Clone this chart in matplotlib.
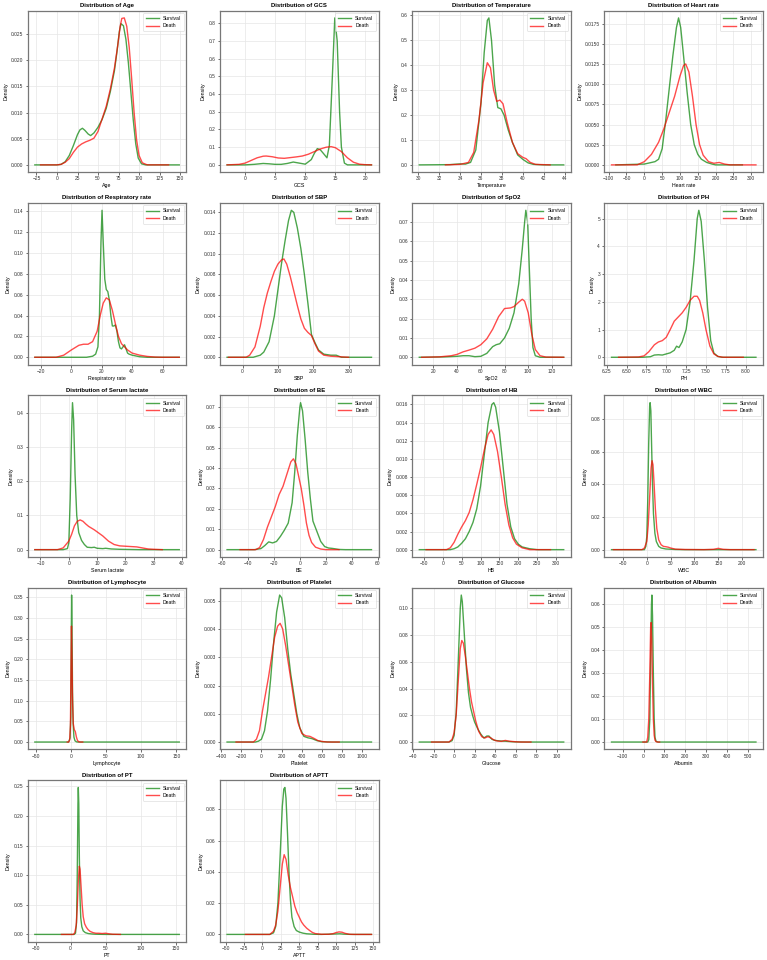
import matplotlib.pyplot as plt
from matplotlib.ticker import MultipleLocator

plt.rcParams['font.family'] = ['Liberation Sans', 'DejaVu Sans']

# densities, (x, density) for each class
age_s_x = [-27, 0, 5, 10, 15, 20, 25, 28, 31, 34, 38, 41, 45, 50, 55, 60, 65, 70, 73, 76, 78, 81, 84, 87, 90, 93, 96, 99, 103, 108, 149]
age_s_y = [0, 0, 0.0001, 0.0006, 0.0018, 0.0037, 0.0058, 0.0067, 0.0070, 0.0066, 0.0059, 0.0056, 0.0061, 0.0072, 0.0087, 0.0108, 0.0140, 0.0180, 0.0215, 0.0255, 0.0270, 0.0266, 0.0240, 0.0195, 0.0140, 0.0085, 0.0040, 0.0013, 0.0002, 0, 0]
age_d_x = [-20, 0, 5, 10, 15, 20, 25, 30, 35, 40, 45, 50, 55, 60, 65, 70, 74, 77, 79, 82, 85, 88, 91, 94, 97, 100, 104, 110, 136]
age_d_y = [0, 0, 0.0001, 0.0005, 0.0012, 0.0024, 0.0034, 0.0040, 0.0044, 0.0047, 0.0051, 0.0064, 0.0088, 0.0112, 0.0145, 0.0185, 0.0228, 0.0265, 0.0280, 0.0281, 0.0265, 0.0225, 0.0165, 0.0100, 0.0048, 0.0018, 0.0004, 0, 0]

gcs_s_x = [-3, 0, 1.5, 3, 4, 5, 6, 7, 8, 9, 10, 11, 11.5, 12, 12.5, 13, 13.6, 14, 14.5, 14.9, 15.3, 15.7, 16, 16.5, 17, 21]
gcs_s_y = [0, 0, 0.003, 0.008, 0.006, 0.003, 0.003, 0.008, 0.016, 0.010, 0.004, 0.030, 0.065, 0.092, 0.085, 0.065, 0.040, 0.110, 0.500, 0.830, 0.700, 0.300, 0.100, 0.010, 0, 0]
gcs_d_x = [-3, -1, 0, 1, 2, 3, 3.5, 4.5, 5.5, 6.5, 7.5, 8.5, 9.5, 10.5, 11.5, 12.5, 13.5, 14.3, 15, 16, 17, 18, 19, 20, 21]
gcs_d_y = [0, 0.003, 0.010, 0.025, 0.040, 0.049, 0.050, 0.046, 0.039, 0.037, 0.041, 0.045, 0.050, 0.060, 0.075, 0.090, 0.100, 0.103, 0.097, 0.075, 0.040, 0.015, 0.004, 0.001, 0]

temp_s_x = [30.1, 33, 34, 34.5, 35, 35.5, 36, 36.3, 36.6, 36.75, 37, 37.3, 37.6, 37.9, 38.2, 38.6, 39, 39.5, 40, 40.5, 41, 42, 43.9]
temp_s_y = [0, 0.001, 0.004, 0.003, 0.010, 0.060, 0.250, 0.450, 0.580, 0.590, 0.500, 0.320, 0.230, 0.225, 0.200, 0.140, 0.090, 0.040, 0.022, 0.008, 0.002, 0, 0]
temp_d_x = [32.6, 34, 34.8, 35.3, 35.8, 36.2, 36.6, 36.9, 37.2, 37.5, 37.8, 38.1, 38.5, 39, 39.5, 40, 40.3, 40.7, 41.2, 42.6]
temp_d_y = [0, 0.002, 0.010, 0.050, 0.180, 0.330, 0.410, 0.390, 0.300, 0.255, 0.260, 0.245, 0.170, 0.090, 0.045, 0.030, 0.025, 0.010, 0.002, 0]

hr_s_x = [-80, 0, 10, 30, 40, 50, 60, 70, 80, 90, 96, 102, 110, 120, 130, 140, 150, 160, 175, 190, 200, 275]
hr_s_y = [0, 0.0001, 0.0002, 0.0004, 0.0007, 0.0020, 0.0055, 0.0095, 0.0135, 0.0170, 0.0182, 0.0170, 0.0135, 0.0090, 0.0050, 0.0025, 0.0013, 0.0007, 0.0003, 0.0001, 0, 0]
hr_d_x = [-92, -20, 0, 20, 40, 55, 70, 85, 100, 110, 116, 125, 135, 145, 155, 165, 180, 195, 210, 225, 240, 313]
hr_d_y = [0, 0, 0.0004, 0.0013, 0.0028, 0.0045, 0.0065, 0.0085, 0.0110, 0.0123, 0.0125, 0.0115, 0.0085, 0.0050, 0.0025, 0.0012, 0.0004, 0.0002, 0.0003, 0.0001, 0, 0]

rr_s_x = [-24, 10, 14, 16, 17.5, 18.5, 19.5, 20.2, 21, 22, 23, 24, 25, 26, 27, 28, 29, 30, 31, 32, 33, 34, 35, 36, 37, 38, 40, 45, 50, 71]
rr_s_y = [0, 0, 0.001, 0.003, 0.010, 0.040, 0.110, 0.141, 0.110, 0.075, 0.065, 0.063, 0.055, 0.040, 0.030, 0.030, 0.031, 0.025, 0.015, 0.009, 0.008, 0.010, 0.012, 0.008, 0.004, 0.003, 0.002, 0.0005, 0, 0]
rr_d_x = [-24, -10, -5, 0, 5, 8, 11, 14, 17, 19, 21, 23, 25, 27, 29, 31, 33, 35, 37, 40, 45, 50, 55, 60, 71]
rr_d_y = [0, 0, 0.002, 0.007, 0.0115, 0.0125, 0.0125, 0.015, 0.025, 0.040, 0.052, 0.057, 0.055, 0.045, 0.032, 0.020, 0.013, 0.010, 0.007, 0.004, 0.002, 0.0008, 0.0002, 0, 0]

sbp_s_x = [-44, 30, 50, 60, 75, 90, 100, 110, 120, 130, 138, 145, 155, 165, 175, 185, 195, 205, 215, 230, 250, 265, 280, 365]
sbp_s_y = [0, 0, 0.0002, 0.0005, 0.0015, 0.0040, 0.0065, 0.0090, 0.0112, 0.0132, 0.0142, 0.0140, 0.0125, 0.0105, 0.0080, 0.0052, 0.0022, 0.0014, 0.0007, 0.0003, 0.0002, 0.0002, 0, 0]
sbp_d_x = [-40, 10, 20, 35, 50, 60, 70, 80, 90, 100, 110, 117, 125, 135, 145, 155, 165, 175, 185, 195, 205, 215, 230, 250, 300]
sbp_d_y = [0, 0, 0.0002, 0.0010, 0.0030, 0.0048, 0.0062, 0.0073, 0.0083, 0.0090, 0.0094, 0.0095, 0.0090, 0.0078, 0.0064, 0.0050, 0.0037, 0.0028, 0.0024, 0.0021, 0.0013, 0.0006, 0.0002, 0.0001, 0]

spo2_s_x = [8, 30, 40, 45, 50, 55, 60, 65, 70, 73, 76, 80, 84, 88, 92, 95, 97, 98, 99.5, 101, 102.5, 104, 106, 110, 130]
spo2_s_y = [0, 0.0002, 0.0005, 0.0008, 0.0008, 0.0003, 0.0005, 0.0020, 0.0055, 0.0065, 0.0070, 0.0100, 0.0150, 0.0230, 0.0380, 0.0560, 0.0700, 0.0760, 0.0700, 0.0450, 0.0200, 0.0050, 0.0008, 0, 0]
spo2_d_x = [10, 25, 35, 40, 45, 50, 55, 60, 65, 70, 75, 80, 85, 88, 92, 95, 97, 100, 103, 106, 110, 115, 130]
spo2_d_y = [0, 0.0002, 0.0008, 0.0015, 0.0028, 0.0037, 0.0047, 0.0065, 0.0095, 0.0145, 0.0210, 0.0252, 0.0255, 0.0262, 0.0285, 0.0300, 0.0290, 0.0230, 0.0120, 0.0040, 0.0008, 0.0001, 0]

ph_s_x = [6.31, 6.7, 6.8, 6.85, 6.9, 6.95, 7.0, 7.05, 7.1, 7.13, 7.16, 7.2, 7.25, 7.3, 7.35, 7.39, 7.41, 7.44, 7.48, 7.52, 7.56, 7.6, 7.65, 7.7, 8.13]
ph_s_y = [0, 0, 0.02, 0.08, 0.09, 0.08, 0.12, 0.16, 0.25, 0.40, 0.35, 0.55, 1.00, 2.00, 3.50, 5.00, 5.30, 4.90, 3.50, 1.80, 0.60, 0.15, 0.03, 0, 0]
ph_d_x = [6.40, 6.65, 6.72, 6.78, 6.85, 6.9, 6.95, 7.0, 7.05, 7.1, 7.15, 7.2, 7.25, 7.3, 7.35, 7.39, 7.42, 7.46, 7.5, 7.55, 7.6, 7.65, 7.72, 7.97]
ph_d_y = [0, 0.01, 0.05, 0.20, 0.45, 0.55, 0.60, 0.72, 1.00, 1.30, 1.45, 1.60, 1.80, 2.05, 2.20, 2.20, 2.05, 1.60, 1.00, 0.40, 0.12, 0.03, 0, 0]

lac_s_x = [-12, -2, -0.5, 0, 0.5, 1, 1.3, 1.7, 2.2, 2.8, 3.5, 4.5, 5.5, 6.5, 8, 9, 10, 12, 13, 15, 18, 25, 39]
lac_s_y = [0, 0, 0.003, 0.020, 0.150, 0.350, 0.430, 0.380, 0.220, 0.100, 0.050, 0.027, 0.015, 0.007, 0.006, 0.007, 0.004, 0.003, 0.004, 0.002, 0.001, 0, 0]
lac_d_x = [-12, -4, -2, 0, 1, 2, 3, 4, 5, 6, 7, 8, 9, 10, 12, 14, 16, 18, 20, 22, 24, 26, 28, 30, 33]
lac_d_y = [0, 0, 0.005, 0.025, 0.045, 0.070, 0.083, 0.087, 0.083, 0.075, 0.068, 0.063, 0.058, 0.052, 0.040, 0.025, 0.015, 0.011, 0.010, 0.009, 0.008, 0.005, 0.002, 0.001, 0]

be_s_x = [-56, -35, -30, -27, -24, -21, -18, -15, -12, -9, -6, -4, -2, 0, 0.5, 2, 4, 6, 8, 10, 13, 16, 19, 22, 25, 30, 35, 55]
be_s_y = [0, 0, 0.0005, 0.0020, 0.0038, 0.0033, 0.0040, 0.0065, 0.0095, 0.0130, 0.0230, 0.0380, 0.0560, 0.0700, 0.0720, 0.0680, 0.0540, 0.0380, 0.0250, 0.0140, 0.0090, 0.0040, 0.0015, 0.0008, 0.0006, 0.0001, 0, 0]
be_d_x = [-46, -34, -31, -28, -25, -22, -19, -16, -13, -10, -7, -5, -3, -1, 1, 3, 5, 7, 9, 12, 16, 20, 30]
be_d_y = [0, 0, 0.001, 0.005, 0.011, 0.016, 0.021, 0.027, 0.031, 0.037, 0.043, 0.0445, 0.042, 0.036, 0.030, 0.022, 0.013, 0.007, 0.0035, 0.0012, 0.0003, 0, 0]

hb_s_x = [-62, 20, 30, 40, 50, 60, 70, 80, 90, 100, 110, 120, 130, 135, 140, 150, 160, 170, 180, 190, 200, 210, 230, 250, 320]
hb_s_y = [0, 0, 0.0001, 0.0003, 0.0007, 0.0012, 0.0020, 0.0030, 0.0045, 0.0070, 0.0105, 0.0140, 0.0160, 0.0162, 0.0157, 0.0130, 0.0090, 0.0050, 0.0025, 0.0012, 0.0006, 0.0003, 0.0001, 0, 0]
hb_d_x = [-44, 10, 20, 30, 40, 50, 60, 70, 80, 90, 100, 110, 120, 128, 135, 145, 155, 165, 175, 185, 195, 210, 230, 285]
hb_d_y = [0, 0, 0.0002, 0.0008, 0.0017, 0.0025, 0.0032, 0.0041, 0.0055, 0.0072, 0.0090, 0.0110, 0.0127, 0.0132, 0.0127, 0.0108, 0.0080, 0.0050, 0.0027, 0.0013, 0.0006, 0.0002, 0, 0]

wbc_s_x = [-74, -5, -2, 0, 2, 4, 6, 7, 8.5, 10, 12, 14, 17, 20, 25, 30, 40, 60, 80, 229]
wbc_s_y = [0, 0, 0.002, 0.008, 0.030, 0.065, 0.088, 0.090, 0.085, 0.065, 0.040, 0.022, 0.010, 0.005, 0.002, 0.001, 0.0004, 0.0001, 0, 0]
wbc_d_x = [-70, -10, -5, 0, 3, 6, 9, 11, 13, 15, 18, 21, 25, 30, 35, 40, 45, 50, 60, 80, 120, 140, 150, 160, 175, 225]
wbc_d_y = [0, 0, 0.001, 0.005, 0.015, 0.032, 0.050, 0.0545, 0.052, 0.042, 0.025, 0.013, 0.006, 0.003, 0.002, 0.0018, 0.0015, 0.001, 0.0003, 0.0001, 0, 0.0002, 0.0008, 0.0002, 0, 0]

lym_s_x = [-51, -3, -1, 0, 0.7, 1.2, 1.8, 2.5, 3.5, 4.5, 6, 8, 10, 154]
lym_s_y = [0, 0, 0.010, 0.060, 0.250, 0.355, 0.280, 0.120, 0.040, 0.012, 0.003, 0.0005, 0, 0]
lym_d_x = [-5, -3, -1.5, -0.5, 0.5, 1.0, 1.6, 2.5, 3.5, 5, 6.5, 8, 9.5, 11, 13, 17]
lym_d_y = [0, 0, 0.005, 0.040, 0.200, 0.280, 0.220, 0.100, 0.045, 0.030, 0.025, 0.012, 0.004, 0.001, 0, 0]

plt_s_x = [-341, -60, -30, 0, 30, 60, 90, 120, 150, 180, 200, 230, 260, 290, 320, 350, 380, 420, 460, 500, 550, 600, 700, 1090]
plt_s_y = [0, 0, 0.00003, 0.0001, 0.0004, 0.0011, 0.0022, 0.0035, 0.0046, 0.0052, 0.0051, 0.0044, 0.0033, 0.0024, 0.0017, 0.0010, 0.0005, 0.0002, 0.00015, 0.00012, 0.00005, 0.00001, 0, 0]
plt_d_x = [-252, -80, -50, -20, 10, 40, 70, 100, 130, 160, 185, 210, 240, 270, 300, 330, 360, 400, 440, 480, 520, 560, 600, 650, 770]
plt_d_y = [0, 0, 0.0001, 0.0004, 0.0011, 0.0017, 0.0023, 0.0030, 0.0037, 0.0041, 0.0042, 0.0040, 0.0034, 0.0027, 0.0020, 0.0013, 0.0007, 0.0003, 0.00022, 0.0002, 0.00013, 0.00005, 0.00002, 0, 0]

glu_s_x = [-34, -5, -2, 0, 2, 4, 6, 7, 8, 10, 12, 14, 16, 18, 20, 23, 26, 29, 32, 34, 37, 40, 45, 50, 55, 60, 70, 107]
glu_s_y = [0, 0, 0.001, 0.005, 0.022, 0.060, 0.100, 0.110, 0.105, 0.080, 0.055, 0.037, 0.026, 0.020, 0.015, 0.010, 0.006, 0.003, 0.0045, 0.0045, 0.002, 0.0012, 0.0008, 0.0006, 0.0003, 0.0001, 0, 0]
glu_d_x = [-22, -5, -2, 0, 2, 4, 6, 7.5, 9, 11, 13, 15, 17, 19, 21, 24, 27, 30, 33, 36, 39, 42, 46, 50, 54, 60, 65, 75]
glu_d_y = [0, 0, 0.002, 0.007, 0.020, 0.045, 0.070, 0.076, 0.074, 0.064, 0.052, 0.040, 0.030, 0.023, 0.016, 0.008, 0.004, 0.003, 0.004, 0.003, 0.0015, 0.0008, 0.0005, 0.0012, 0.0006, 0.0002, 0, 0]

alb_s_x = [-154, 20, 25, 30, 34, 38, 40, 43, 47, 51, 55, 60, 70, 540]
alb_s_y = [0, 0, 0.001, 0.010, 0.035, 0.060, 0.064, 0.055, 0.030, 0.010, 0.002, 0.0003, 0, 0]
alb_d_x = [-3, 15, 20, 25, 30, 34, 36, 39, 43, 47, 51, 55, 60, 65, 77]
alb_d_y = [0, 0, 0.002, 0.010, 0.030, 0.050, 0.052, 0.045, 0.025, 0.010, 0.003, 0.0008, 0.0002, 0, 0]

pt_s_x = [-51, 5, 7, 8.5, 9.5, 10.5, 11, 11.7, 12.5, 13.5, 14.5, 16, 18, 21, 25, 30, 35, 40, 50, 155]
pt_s_y = [0, 0, 0.002, 0.020, 0.100, 0.220, 0.248, 0.220, 0.130, 0.060, 0.028, 0.013, 0.006, 0.003, 0.0015, 0.0008, 0.0004, 0.0002, 0, 0]
pt_d_x = [-13, 4, 6, 8, 9.5, 11, 12.5, 13.5, 15, 16.5, 18, 20, 22.5, 25, 28, 32, 36, 40, 45, 50, 55, 60, 71]
pt_d_y = [0, 0, 0.003, 0.015, 0.045, 0.090, 0.115, 0.110, 0.080, 0.050, 0.030, 0.018, 0.012, 0.008, 0.005, 0.003, 0.002, 0.002, 0.0015, 0.002, 0.001, 0.0003, 0]

aptt_s_x = [-48, 10, 15, 18, 21, 24, 27, 29, 30.5, 32, 34, 36, 38, 40, 43, 46, 50, 55, 60, 70, 80, 100, 105, 110, 120, 148]
aptt_s_y = [0, 0, 0.001, 0.005, 0.020, 0.050, 0.082, 0.093, 0.094, 0.087, 0.065, 0.040, 0.022, 0.011, 0.005, 0.0025, 0.0015, 0.0008, 0.0004, 0.0001, 0, 0.0003, 0.0004, 0.0002, 0, 0]
aptt_d_x = [-23, 10, 15, 18, 21, 24, 27, 29.5, 32, 35, 38, 41, 44, 47, 50, 53, 56, 60, 64, 68, 72, 80, 90, 96, 100, 104, 108, 112, 118, 125, 148]
aptt_d_y = [0, 0, 0.002, 0.006, 0.015, 0.030, 0.045, 0.051, 0.048, 0.038, 0.030, 0.024, 0.018, 0.014, 0.011, 0.008, 0.006, 0.004, 0.0025, 0.0012, 0.0005, 0.0001, 0.0001, 0.0005, 0.0012, 0.0016, 0.0014, 0.0007, 0.0001, 0, 0]

features = ['Age', 'GCS', 'Temperature', 'Heart rate', 'Respiratory rate', 'SBP', 'SpO2', 'PH',
            'Serum lactate', 'BE', 'HB', 'WBC', 'Lymphocyte', 'Platelet', 'Glucose', 'Albumin', 'PT', 'APTT']
curves = [
    (age_s_x, age_s_y, age_d_x, age_d_y), (gcs_s_x, gcs_s_y, gcs_d_x, gcs_d_y),
    (temp_s_x, temp_s_y, temp_d_x, temp_d_y), (hr_s_x, hr_s_y, hr_d_x, hr_d_y),
    (rr_s_x, rr_s_y, rr_d_x, rr_d_y), (sbp_s_x, sbp_s_y, sbp_d_x, sbp_d_y),
    (spo2_s_x, spo2_s_y, spo2_d_x, spo2_d_y), (ph_s_x, ph_s_y, ph_d_x, ph_d_y),
    (lac_s_x, lac_s_y, lac_d_x, lac_d_y), (be_s_x, be_s_y, be_d_x, be_d_y),
    (hb_s_x, hb_s_y, hb_d_x, hb_d_y), (wbc_s_x, wbc_s_y, wbc_d_x, wbc_d_y),
    (lym_s_x, lym_s_y, lym_d_x, lym_d_y), (plt_s_x, plt_s_y, plt_d_x, plt_d_y),
    (glu_s_x, glu_s_y, glu_d_x, glu_d_y), (alb_s_x, alb_s_y, alb_d_x, alb_d_y),
    (pt_s_x, pt_s_y, pt_d_x, pt_d_y), (aptt_s_x, aptt_s_y, aptt_d_x, aptt_d_y),
]
x_steps = [25, 5, 2, 50, 20, 100, 20, 0.25, 10, 20, 50, 50, 50, 200, 20, 100, 50, 25]
y_steps = [0.005, 0.1, 0.1, 0.0025, 0.02, 0.002, 0.01, 1, 0.1, 0.01, 0.002, 0.02, 0.05, 0.001, 0.02, 0.01, 0.05, 0.02]

fig, axes = plt.subplots(5, 4, figsize=(7.67, 9.6), dpi=100)
fig.subplots_adjust(left=0.036, right=0.995, top=0.989, bottom=0.019, wspace=0.21, hspace=0.19)
axes = axes.flatten()

for i, name in enumerate(features):
    ax = axes[i]
    sx, sy, dx, dy = curves[i]
    ax.plot(sx, sy, color='green', alpha=0.7, lw=1.0, label='Survival')
    ax.plot(dx, dy, color='red', alpha=0.7, lw=1.0, label='Death')
    ax.set_title(f'Distribution of {name}', fontsize=4.3, fontweight='bold', pad=2.5)
    ax.set_xlabel(name, fontsize=3.8, labelpad=1.5)
    ax.set_ylabel('Density', fontsize=3.8, labelpad=2)
    ax.xaxis.set_major_locator(MultipleLocator(x_steps[i]))
    ax.yaxis.set_major_locator(MultipleLocator(y_steps[i]))
    ax.tick_params(labelsize=3.5, length=1.8, width=0.5, pad=1.2, colors='#333333')
    ax.grid(True, color='#e6e6e6', lw=0.5)
    ax.set_axisbelow(True)
    for s in ax.spines.values():
        s.set_color('#777777')
        s.set_linewidth(0.9)
    leg = ax.legend(loc='upper right', fontsize=3.6, handlelength=2.6, borderpad=0.6, labelspacing=0.45)
    leg.get_frame().set_linewidth(0.4)

for ax in axes[len(features):]:
    ax.axis('off')

plt.savefig('out.png', dpi=100)
